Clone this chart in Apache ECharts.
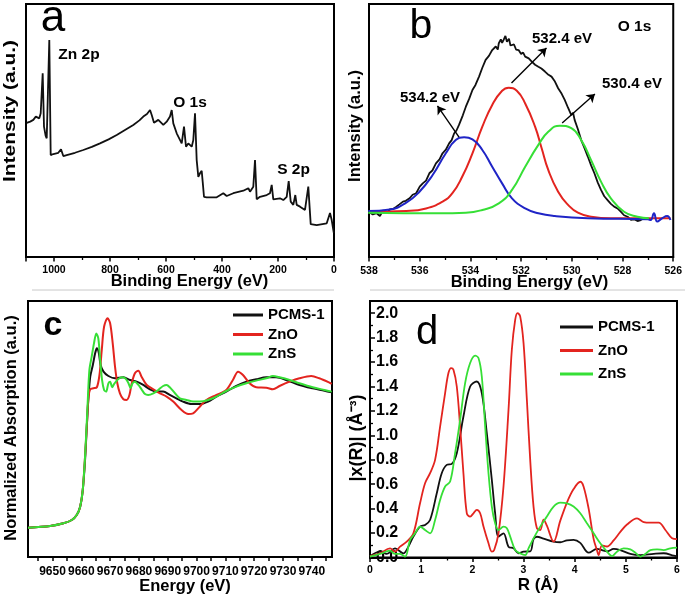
<!DOCTYPE html>
<html><head><meta charset="utf-8">
<script src="https://cdn.jsdelivr.net/npm/echarts@6/dist/echarts.min.js"></script>
<style>html,body{margin:0;padding:0;background:#fff}#c{width:685px;height:599px}</style>
</head><body><div id="c"></div>
<script>
// ---------- DATA ----------
// Panel a: XPS survey [binding energy eV, intensity a.u.]
const surveyA = [[1097.5,53.0],[1085,53.5],[1073.9,54.2],[1065,55.5],[1061.8,56.1],[1052.5,54.8],[1047.5,56.8],[1040.4,72.6],[1035.7,51.5],[1030,48],[1026,46.9],[1016.8,85.8],[1011.8,40.3],[1002.5,40.7],[984.6,41.2],[975,42.6],[966.8,39.9],[954.6,40.3],[925,41.2],[895.4,42.3],[865,43.5],[835.7,44.9],[805,46.5],[776,48.2],[745,50.3],[716.8,52.2],[695,54],[681,55.5],[668,56.5],[657,58.1],[651,56.1],[642.9,53.1],[627.5,54.2],[609.6,52.2],[597.5,53.5],[585.7,55.5],[579.6,58.1],[573.9,52.8],[561.8,48.9],[543.9,44.9],[535.7,51.5],[528.6,43.6],[520.4,44.9],[508.2,43.6],[502.5,46.2],[496.4,56.8],[490.4,38.3],[484.6,31.7],[478.6,33.1],[472.5,34.1],[469,29.8],[464.3,23.8],[454.6,23.6],[418.9,23.6],[395.4,25.2],[383.2,24.1],[359.6,25.2],[323.9,26.2],[306,27.2],[300,25.8],[288.2,27.8],[282.1,38.3],[276.1,22.8],[264.3,23.8],[240.4,24.5],[228.6,25.2],[222.5,28.5],[216.8,22.8],[192.9,23.2],[181,22.5],[168.9,23.8],[161.8,30.0],[154.6,21.9],[145.4,20.6],[138.2,24.5],[133.2,20.6],[121.4,19.9],[103.6,18.6],[91.8,27.8],[83.2,13.0],[61.8,12.6],[26,13.3],[14.3,17.4],[8.2,14.6],[2.5,10.7],[0.5,9.5]];
const surveyLabels = [0,200,400,600,800,1000];

// Panel b: O 1s [binding energy eV, intensity a.u.]
const o1sRaw = [[538.03,17.9],[537.85,16.8],[537.70,17.3],[537.57,16.2],[537.45,18.4],[537.38,18.6],[537.28,17.6],[537.18,18.8],[537.05,19.0],[536.92,19.9],[536.80,20.8],[536.66,21.9],[536.55,22.2],[536.40,23.2],[536.28,24.6],[536.14,25.2],[536.0,27.8],[535.88,29.1],[535.75,30.2],[535.62,33.1],[535.50,34.2],[535.36,37.0],[535.22,38.6],[535.10,41.0],[534.97,42.4],[534.84,44.9],[534.74,46.2],[534.64,48.9],[534.55,50.0],[534.45,52.2],[534.30,56.0],[534.18,59.4],[534.05,62.5],[533.92,66.0],[533.80,68.0],[533.66,71.3],[533.53,74.8],[533.40,77.9],[533.27,79.5],[533.14,81.8],[533.0,83.2],[532.92,82.0],[532.88,84.5],[532.80,86.0],[532.75,84.6],[532.69,85.8],[532.62,87.4],[532.56,85.1],[532.48,86.3],[532.42,83.6],[532.36,83.1],[532.28,84.0],[532.20,82.0],[532.10,81.8],[532.0,80.2],[531.92,80.8],[531.84,79.2],[531.70,78.5],[531.58,77.2],[531.45,76.0],[531.32,75.2],[531.20,74.5],[531.06,73.3],[530.92,72.0],[530.80,71.3],[530.68,69.6],[530.54,66.7],[530.40,64.5],[530.28,62.1],[530.15,59.0],[530.02,56.1],[529.95,57.0],[529.89,54.2],[529.76,50.5],[529.63,46.2],[529.50,43.0],[529.37,39.7],[529.24,36.2],[529.11,33.1],[528.98,29.5],[528.85,26.5],[528.72,24.0],[528.59,22.5],[528.46,21.0],[528.33,19.9],[528.20,19.2],[528.07,17.9],[527.94,16.5],[527.80,15.9],[527.67,14.7],[527.54,14.9],[527.41,14.2],[527.28,14.6],[527.15,15.4],[527.02,15.3]];
const o1sPeak532 = [[537.96,17.9],[536.53,18.2],[535.75,19.2],[535.10,21.9],[534.71,25.2],[534.32,31.8],[533.92,41.0],[533.53,51.5],[533.14,60.1],[532.75,65.7],[532.49,66.9],[532.17,65.7],[531.84,60.7],[531.45,51.5],[531.19,43.0],[530.93,34.4],[530.54,25.8],[530.15,20.6],[529.76,17.5],[529.24,15.9],[528.46,15.3],[526.11,15.3]];
const o1sPeak534 = [[538.03,18.2],[537.18,18.8],[536.53,21.5],[536.01,25.8],[535.49,32.4],[534.97,41.0],[534.58,46.2],[534.25,47.3],[533.92,46.5],[533.53,42.3],[533.14,35.7],[532.75,29.1],[532.36,23.2],[531.84,19.2],[531.32,17.3],[530.67,16.2],[529.37,15.3],[527.0,14.9],[526.89,14.6],[526.76,17.3],[526.63,14.0],[526.44,15.3],[526.24,16.2],[526.11,14.6]];
const o1sPeak530 = [[538.03,17.5],[535.23,17.3],[534.18,17.5],[533.53,18.6],[532.88,21.2],[532.36,26.5],[531.84,35.7],[531.32,44.3],[530.93,49.5],[530.47,51.9],[530.02,50.9],[529.63,46.2],[529.24,38.3],[528.85,29.8],[528.46,23.2],[527.94,17.9],[527.41,15.9],[526.96,15.3]];
const o1sLabels = [526,528,530,532,534,536,538];
// arrow annotations [from, to] in data units
const o1sArrows = [[[532.38,68.8],[531.0,82.6]],[[534.45,47.4],[535.3,59.7]],[[530.38,53.0],[529.09,64.4]]];

// Panel c: XANES [energy eV, normalized absorption]
const xanesPCMS = [[9641.5,0.229],[9649.2,0.242],[9653.8,0.263],[9656.7,0.289],[9658.4,0.328],[9659.6,0.393],[9660.5,0.523],[9661.3,0.758],[9661.9,1.018],[9662.5,1.253],[9663.1,1.409],[9664.0,1.500],[9664.8,1.591],[9665.4,1.630],[9666.1,1.591],[9666.7,1.500],[9667.7,1.448],[9669.4,1.414],[9671.7,1.396],[9674.6,1.404],[9676.9,1.383],[9679.2,1.370],[9681.5,1.344],[9683.8,1.310],[9686.1,1.292],[9688.4,1.292],[9690.7,1.266],[9693.0,1.240],[9695.3,1.214],[9698.2,1.195],[9701.1,1.195],[9704.0,1.214],[9706.9,1.253],[9710.3,1.292],[9713.8,1.336],[9717.3,1.370],[9720.7,1.388],[9724.2,1.404],[9727.6,1.404],[9731.1,1.383],[9735.7,1.344],[9740.3,1.318],[9744.4,1.299],[9746.9,1.286]];
const xanesZnO = [[9641.5,0.229],[9649.2,0.242],[9653.8,0.263],[9656.7,0.289],[9658.4,0.328],[9659.6,0.393],[9660.5,0.523],[9661.3,0.784],[9661.9,1.018],[9662.5,1.253],[9663.1,1.310],[9664.2,1.318],[9665.4,1.326],[9666.3,1.422],[9667.1,1.617],[9667.9,1.799],[9669.1,1.865],[9670.0,1.826],[9670.9,1.669],[9671.7,1.487],[9672.5,1.357],[9673.4,1.279],[9674.6,1.232],[9675.7,1.227],[9676.7,1.266],[9677.5,1.357],[9678.6,1.435],[9679.8,1.456],[9680.9,1.409],[9682.7,1.344],[9685.0,1.310],[9687.3,1.279],[9689.6,1.253],[9691.9,1.214],[9694.8,1.148],[9697.1,1.117],[9698.8,1.122],[9701.1,1.174],[9703.4,1.227],[9706.9,1.266],[9710.3,1.305],[9712.6,1.383],[9714.4,1.448],[9716.1,1.422],[9718.4,1.357],[9720.7,1.326],[9724.2,1.323],[9726.5,1.310],[9728.8,1.336],[9732.3,1.370],[9735.7,1.396],[9739.8,1.414],[9742.6,1.396],[9746.1,1.362],[9746.9,1.352]];
const xanesZnS = [[9641.5,0.229],[9649.2,0.242],[9653.8,0.263],[9656.7,0.289],[9658.4,0.328],[9659.6,0.393],[9660.5,0.523],[9661.3,0.784],[9662.1,1.148],[9662.8,1.461],[9663.6,1.565],[9664.4,1.669],[9665.2,1.747],[9665.9,1.708],[9666.5,1.552],[9667.2,1.383],[9667.9,1.305],[9668.6,1.292],[9669.4,1.357],[9670.0,1.370],[9670.7,1.326],[9671.4,1.352],[9672.5,1.383],[9674.0,1.404],[9675.2,1.396],[9676.3,1.362],[9677.1,1.318],[9677.8,1.357],[9678.6,1.370],[9679.8,1.344],[9680.9,1.310],[9682.1,1.273],[9683.2,1.266],[9685.0,1.279],[9686.7,1.305],[9688.4,1.336],[9689.6,1.344],[9690.7,1.326],[9692.5,1.279],[9694.2,1.240],[9696.5,1.227],[9698.8,1.214],[9701.1,1.214],[9704.0,1.227],[9706.9,1.253],[9710.3,1.297],[9713.8,1.331],[9717.3,1.357],[9720.7,1.378],[9724.2,1.396],[9726.5,1.414],[9728.8,1.404],[9732.3,1.383],[9735.7,1.357],[9740.3,1.326],[9744.4,1.305],[9746.9,1.292]];
const xanesLabels = [9650,9660,9670,9680,9690,9700,9710,9720,9730,9740];
const xanesTicks = [9645,9650,9655,9660,9665,9670,9675,9680,9685,9690,9695,9700,9705,9710,9715,9720,9725,9730,9735,9740,9745];

// Panel d: FT-EXAFS [R Å, |x(R)|]
const ftPCMS = [[0,0.01],[0.196,0.048],[0.326,0.029],[0.489,0.075],[0.652,0.034],[0.75,0.089],[0.848,0.171],[0.978,0.253],[1.076,0.266],[1.174,0.307],[1.305,0.526],[1.402,0.690],[1.5,0.758],[1.598,0.766],[1.696,0.854],[1.826,1.154],[1.957,1.400],[2.087,1.441],[2.185,1.346],[2.283,1.018],[2.381,0.635],[2.446,0.362],[2.511,0.171],[2.609,0.198],[2.707,0.089],[2.805,0.075],[2.903,0.034],[3.001,0.048],[3.131,0.05],[3.196,0.15],[3.262,0.17],[3.392,0.155],[3.588,0.13],[3.718,0.125],[3.849,0.14],[3.979,0.145],[4.11,0.12],[4.273,0.04],[4.436,0.07],[4.534,0.06],[4.631,0.05],[4.762,0.07],[4.892,0.06],[5.088,0.03],[5.284,0.02],[5.545,0.03],[5.74,0.035],[5.936,0.015],[6.0,0.01]];
const ftZnO = [[0,0.012],[0.196,0.034],[0.391,0.075],[0.489,0.048],[0.587,0.089],[0.718,0.130],[0.848,0.198],[0.978,0.444],[1.076,0.608],[1.174,0.690],[1.272,0.799],[1.37,1.072],[1.468,1.346],[1.533,1.510],[1.585,1.551],[1.631,1.537],[1.696,1.400],[1.761,1.072],[1.826,0.690],[1.892,0.362],[1.957,0.335],[2.022,0.362],[2.087,0.390],[2.153,0.362],[2.218,0.253],[2.316,0.116],[2.381,0.048],[2.427,0.061],[2.511,0.198],[2.609,0.581],[2.707,1.209],[2.772,1.701],[2.838,1.947],[2.883,2.001],[2.935,1.974],[3.001,1.755],[3.066,1.291],[3.131,0.799],[3.196,0.417],[3.262,0.239],[3.327,0.225],[3.392,0.31],[3.457,0.26],[3.588,0.13],[3.718,0.30],[3.849,0.45],[3.979,0.56],[4.11,0.62],[4.175,0.58],[4.273,0.40],[4.371,0.15],[4.436,0.06],[4.468,0.02],[4.534,0.10],[4.631,0.09],[4.762,0.14],[4.892,0.21],[5.023,0.27],[5.219,0.32],[5.349,0.29],[5.479,0.285],[5.643,0.285],[5.773,0.225],[5.904,0.157],[6.0,0.15]];
const ftZnS = [[0,0.007],[0.196,0.029],[0.391,0.056],[0.489,0.029],[0.587,0.029],[0.685,0.007],[0.783,0.143],[0.881,0.198],[0.978,0.253],[1.076,0.225],[1.174,0.198],[1.272,0.307],[1.37,0.471],[1.468,0.581],[1.566,0.622],[1.663,0.854],[1.761,1.127],[1.859,1.428],[1.957,1.592],[2.055,1.652],[2.12,1.633],[2.185,1.482],[2.251,1.072],[2.316,0.690],[2.381,0.417],[2.446,0.280],[2.511,0.225],[2.609,0.253],[2.675,0.239],[2.74,0.171],[2.838,0.061],[2.935,0.034],[3.033,0.020],[3.098,0.075],[3.196,0.157],[3.327,0.253],[3.457,0.335],[3.588,0.417],[3.718,0.449],[3.849,0.444],[3.979,0.417],[4.11,0.362],[4.24,0.280],[4.371,0.198],[4.501,0.116],[4.631,0.048],[4.729,0.012],[4.827,0.048],[4.958,0.075],[5.088,0.067],[5.186,0.040],[5.284,0.007],[5.382,0.029],[5.479,0.061],[5.61,0.067],[5.74,0.061],[5.871,0.075],[6.0,0.081]];
const ftXLabels = [0,1,2,3,4,5,6];
const ftYLabels = [0,0.2,0.4,0.6,0.8,1.0,1.2,1.4,1.6,1.8,2.0];
const seriesNames = ['PCMS-1','ZnO','ZnS'];

// ---------- STYLE ----------
const FONT = '"Liberation Sans", Arial, Helvetica, sans-serif';
const BLACK = '#111111', RED = '#e3241f', GREEN = '#36df36', BLUE = '#1f24c6';
const plain = v => String(v);

function lbl(size, margin, values) {
  return {color: '#000', fontWeight: 'bold', fontFamily: FONT, fontSize: size, margin: margin,
    customValues: values, formatter: plain};
}
function xAx(grid, o) {
  return Object.assign({
    gridIndex: grid, type: 'value',
    axisLine: {show: true, onZero: false, lineStyle: {color: '#000', width: 2}},
    axisTick: {show: true, length: 4.5, lineStyle: {color: '#000', width: 1.5}},
    minorTick: {show: true, splitNumber: 2, length: 3, lineStyle: {color: '#000', width: 1.3}},
    splitLine: {show: false}, minorSplitLine: {show: false}
  }, o);
}
function yHidden(grid, min, max) {
  return {gridIndex: grid, type: 'value', min: min, max: max,
    axisLine: {show: false}, axisTick: {show: false}, axisLabel: {show: false}, splitLine: {show: false}};
}
function line(name, data, color, xi, width, smooth, z) {
  return {type: 'line', name: name, data: data, xAxisIndex: xi, yAxisIndex: xi,
    showSymbol: false, symbol: 'none', smooth: smooth, z: z || 2,
    color: color, itemStyle: {color: color},
    lineStyle: {color: color, width: width}, animation: false};
}

const gridBase = {show: true, borderColor: '#000', borderWidth: 2, backgroundColor: 'transparent'};
const option = {
  animation: false,
  backgroundColor: '#fff',
  grid: [
    Object.assign({left: 26, top: 4, width: 308, height: 253}, gridBase),
    Object.assign({left: 369, top: 4, width: 306.5, height: 253}, gridBase),
    Object.assign({left: 28, top: 301, width: 304, height: 256}, gridBase),
    Object.assign({left: 370, top: 301, width: 307, height: 256.5}, gridBase)
  ],
  xAxis: [
    xAx(0, {min: 0, max: 1100, inverse: true, interval: 200, axisLabel: lbl(10.5, 8, surveyLabels)}),
    xAx(1, {min: 526, max: 538, inverse: true, interval: 2, axisLabel: lbl(10.5, 8.5, o1sLabels)}),
    xAx(2, {min: 9641.5, max: 9747,
      axisTick: {show: true, length: 4, lineStyle: {color: '#000', width: 1.5}, customValues: xanesTicks},
      minorTick: {show: false},
      axisLabel: lbl(12, 9, xanesLabels)}),
    xAx(3, {min: 0, max: 6, interval: 1, axisLabel: lbl(10.5, 7, ftXLabels)})
  ],
  yAxis: [
    yHidden(0, 0, 100),
    yHidden(1, 0, 100),
    yHidden(2, 0, 2),
    {gridIndex: 3, type: 'value', min: 0, max: 2.1, interval: 0.2,
      axisLine: {show: true, lineStyle: {color: '#000', width: 2}},
      axisTick: {show: true, inside: true, length: 5, lineStyle: {color: '#000', width: 1.5}},
      minorTick: {show: true, splitNumber: 2, length: 3, lineStyle: {color: '#000', width: 1.3}},
      splitLine: {show: false}, minorSplitLine: {show: false},
      axisLabel: {inside: true, margin: 6, color: '#000', fontWeight: 'bold', fontFamily: FONT, fontSize: 16,
        customValues: ftYLabels, formatter: v => v.toFixed(1)}}
  ],
  legend: [
    {data: seriesNames, left: 233, top: 307.5, orient: 'vertical', icon: 'rect',
      itemWidth: 30, itemHeight: 3, itemGap: 4.5, selectedMode: false, padding: 0,
      textStyle: {fontSize: 15, fontWeight: 'bold', fontFamily: FONT, color: '#000', lineHeight: 15}},
    {data: seriesNames, left: 560, top: 319.5, orient: 'vertical', icon: 'rect',
      itemWidth: 33, itemHeight: 3, itemGap: 8.5, selectedMode: false, padding: 0,
      textStyle: {fontSize: 15, fontWeight: 'bold', fontFamily: FONT, color: '#000', lineHeight: 15}}
  ],
  series: [
    line('survey', surveyA, BLACK, 0, 1.8, false),
    line('O1s raw', o1sRaw, BLACK, 1, 1.8, false, 2),
    line('532.4', o1sPeak532, RED, 1, 2, true, 3),
    line('534.2', o1sPeak534, BLUE, 1, 2, true, 4),
    Object.assign(line('530.4', o1sPeak530, GREEN, 1, 2, true, 5), {
      markLine: {silent: true, animation: false, symbol: ['none', 'arrow'], symbolSize: 8,
        label: {show: false}, lineStyle: {color: '#000', width: 1.4, type: 'solid'},
        emphasis: {disabled: true},
        data: o1sArrows.map(a => [{coord: a[0]}, {coord: a[1]}])}
    }),
    line('PCMS-1', xanesPCMS, BLACK, 2, 2, 0.3, 2),
    line('ZnO', xanesZnO, RED, 2, 2, 0.3, 3),
    line('ZnS', xanesZnS, GREEN, 2, 2, 0.3, 4),
    line('PCMS-1', ftPCMS, BLACK, 3, 1.8, 0.35, 2),
    line('ZnO', ftZnO, RED, 3, 1.8, 0.35, 3),
    line('ZnS', ftZnS, GREEN, 3, 1.8, 0.35, 4)
  ]
};

// ---------- TEXT ANNOTATIONS ----------
const labels = [
  {t: 'a', x: 53, y: 19, s: 44, w: 'normal'},
  {t: 'b', x: 421, y: 27, s: 41, w: 'normal'},
  {t: 'c', x: 53, y: 326, s: 34, w: 'bold'},
  {t: 'd', x: 427, y: 333, s: 40, w: 'normal'},
  {t: 'Zn 2p', x: 79, y: 54.5, s: 15.5, w: 'bold'},
  {t: 'O 1s', x: 190, y: 102.5, s: 15.5, w: 'bold'},
  {t: 'S 2p', x: 293.5, y: 170, s: 15.5, w: 'bold'},
  {t: 'O 1s', x: 634.5, y: 27, s: 15.5, w: 'bold'},
  {t: '532.4 eV', x: 562, y: 39, s: 15, w: 'bold'},
  {t: '534.2 eV', x: 430, y: 97.5, s: 15, w: 'bold'},
  {t: '530.4 eV', x: 632, y: 84, s: 15, w: 'bold'},
  {t: 'Binding Energy (eV)', x: 189.5, y: 281, s: 16.5, w: 'bold'},
  {t: 'Binding Energy (eV)', x: 529.5, y: 282, s: 16.5, w: 'bold'},
  {t: 'Energy (eV)', x: 185, y: 586.5, s: 16.5, w: 'bold'},
  {t: 'R (Å)', x: 538, y: 585, s: 17, w: 'bold'},
  {t: 'Intensity (a.u.)', x: 10.5, y: 111, s: 16.5, w: 'bold', r: 1, sx: 1.27},
  {t: 'Intensity (a.u.)', x: 355.5, y: 126, s: 16.5, w: 'bold', r: 1},
  {t: 'Normalized Absorption (a.u.)', x: 11.5, y: 428, s: 16.5, w: 'bold', r: 1},
  {t: '|x(R)| (Å⁻³)', x: 357, y: 438, s: 18, w: 'bold', r: 1}
];
option.graphic = labels.map(l => ({
  type: 'text', x: l.x, y: l.y, rotation: l.r ? Math.PI / 2 : 0, scaleX: l.sx || 1, z: 100, silent: true,
  style: {text: l.t, font: l.w + ' ' + l.s + 'px ' + FONT, fill: '#000',
    textAlign: 'center', textVerticalAlign: 'middle', align: 'center', verticalAlign: 'middle'}
})).concat([
  {type: 'line', shape: {x1: 32, y1: 290, x2: 334, y2: 290}, style: {stroke: '#c8c8c8', lineWidth: 1}, silent: true},
  {type: 'line', shape: {x1: 370, y1: 290, x2: 685, y2: 290}, style: {stroke: '#c8c8c8', lineWidth: 1}, silent: true}
]);

const chart = echarts.init(document.getElementById('c'), null, {renderer: 'canvas'});
chart.setOption(option);
</script></body></html>
